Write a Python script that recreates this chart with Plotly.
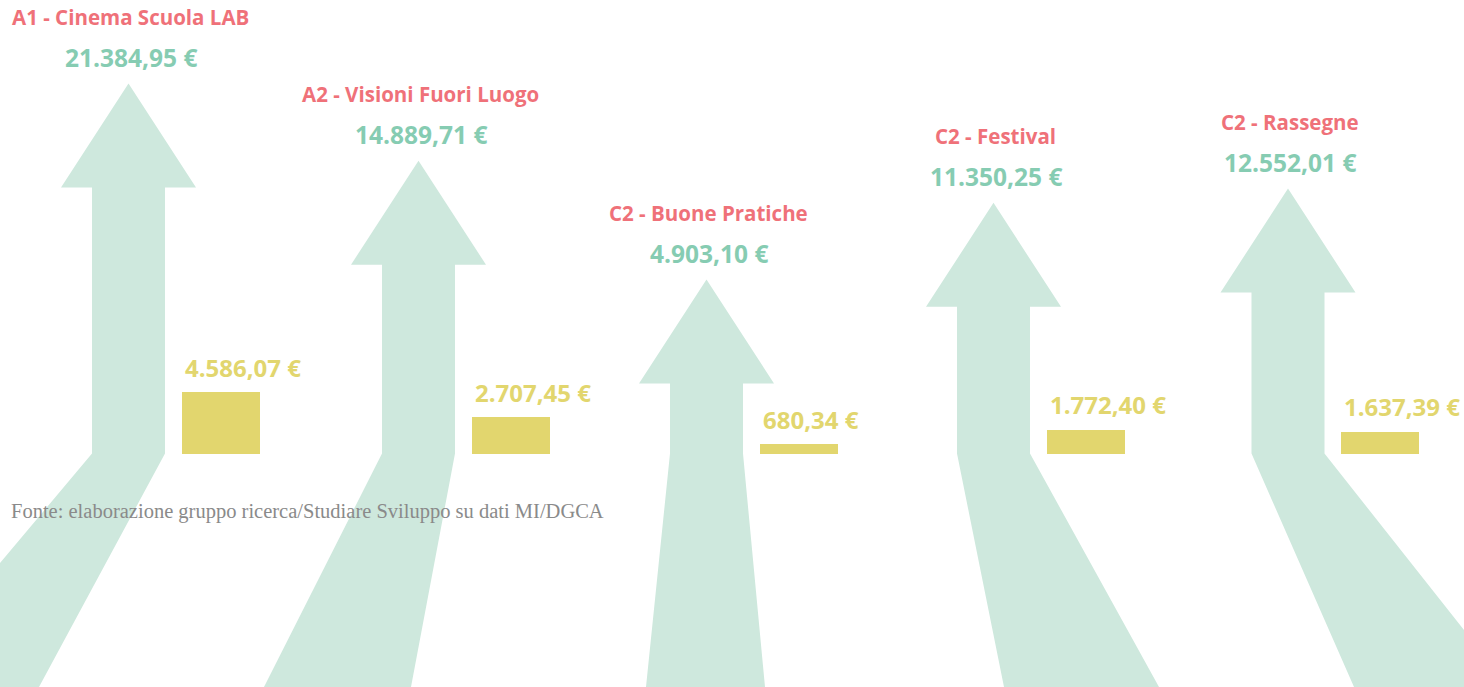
import plotly.graph_objects as go

# ---- data ----
categories = ["A1 - Cinema Scuola LAB", "A2 - Visioni Fuori Luogo", "C2 - Buone Pratiche",
              "C2 - Festival", "C2 - Rassegne"]
arrow_values = [21384.95, 14889.71, 4903.10, 11350.25, 12552.01]
bar_values = [4586.07, 2707.45, 680.34, 1772.40, 1637.39]
source_text = "Fonte: elaborazione gruppo ricerca/Studiare Sviluppo su dati MI/DGCA"

# ---- layout constants (pixel geometry) ----
W, H = 1464, 687
group_x = [128.5, 418.5, 706.5, 993.5, 1288]          # shaft centres
lean_left = [-232.5, -154.5, -60.5, 10.5, 66]         # bottom-edge offsets of the decorative tails
lean_right = [-89.5, -7.5, 58.5, 165.5, 221]

ARROW_FILL = "#CEE8DD"
BAR_FILL = "#E2D66E"
NAME_COL = "#EF7179"
VAL_COL = "#86CCB2"
BAR_TXT = "#E2D66E"

# arrow axis (y2): tip of the arrow sits at its value
px_per_eur_arrow = 0.01189
tip_zero_px = 337.8                     # pixel row (from top) of value 0
y2_top = tip_zero_px / px_per_eur_arrow
y2_bot = (tip_zero_px - H) / px_per_eur_arrow
baseline_px = 453.5
y2_base = (tip_zero_px - baseline_px) / px_per_eur_arrow
head_h = 104 / px_per_eur_arrow

# bar axis (y)
px_per_eur_bar = 0.0134
y_top = baseline_px / px_per_eur_bar
y_bot = -(H - baseline_px) / px_per_eur_bar

def fmt(v):
    s = f"{v:,.2f}"
    return s.replace(",", "X").replace(".", ",").replace("X", ".") + " €"

fig = go.Figure()

shaft_hw, head_hw = 36.5, 67.5
for c, v, ll, lr in zip(group_x, arrow_values, lean_left, lean_right):
    hb = v - head_h
    xs = [c, c + head_hw, c + shaft_hw, c + shaft_hw, c + lr, c + ll, c - shaft_hw, c - shaft_hw, c - head_hw, c]
    ys = [v, hb, hb, y2_base, y2_bot, y2_bot, y2_base, hb, hb, v]
    fig.add_trace(go.Scatter(x=xs, y=ys, yaxis="y2", mode="lines", fill="toself",
                             fillcolor=ARROW_FILL, line=dict(width=0, color=ARROW_FILL),
                             hoverinfo="skip", showlegend=False))

bar_off, bar_w = 53, 78
fig.add_trace(go.Bar(x=[c + bar_off + bar_w / 2 for c in group_x], y=bar_values, width=bar_w,
                     marker=dict(color=BAR_FILL, line=dict(width=0)), showlegend=False,
                     hoverinfo="skip"))

font_fam = "'Open Sans', 'Noto Sans', sans-serif"
annotations = []
for c, v, b, name in zip(group_x, arrow_values, bar_values, categories):
    annotations.append(dict(x=c + 2, y=v, xref="x", yref="y2", text=f"<b>{name}</b>", showarrow=False,
                            xanchor="center", yanchor="middle", yshift=67,
                            font=dict(family=font_fam, size=20.5, color=NAME_COL)))
    annotations.append(dict(x=c + 2, y=v, xref="x", yref="y2", text=f"<b>{fmt(v)}</b>", showarrow=False,
                            xanchor="center", yanchor="middle", yshift=26,
                            font=dict(family=font_fam, size=24.5, color=VAL_COL)))
    annotations.append(dict(x=c + bar_off + 1, y=b, xref="x", yref="y", text=f"<b>{fmt(b)}</b>",
                            showarrow=False, xanchor="left", yanchor="middle", yshift=25,
                            font=dict(family=font_fam, size=24, color=BAR_TXT)))

annotations.append(dict(x=9, y=1 - 511 / H, xref="x", yref="paper", text=source_text, showarrow=False,
                        xanchor="left", yanchor="middle",
                        font=dict(family="'Liberation Serif', 'DejaVu Serif', serif", size=20.5,
                                  color="#8A8A8A")))

fig.update_layout(
    width=W, height=H, margin=dict(l=0, r=0, t=0, b=0),
    paper_bgcolor="white", plot_bgcolor="white",
    xaxis=dict(range=[0, W], visible=False, fixedrange=True),
    yaxis=dict(range=[y_bot, y_top], visible=False, fixedrange=True),
    yaxis2=dict(range=[y2_bot, y2_top], visible=False, overlaying="y", fixedrange=True),
    annotations=annotations, bargap=0, showlegend=False,
)

fig.write_html("out.html", config={"displayModeBar": False},
               post_script="document.body.style.margin='0';document.body.style.overflow='hidden';")
